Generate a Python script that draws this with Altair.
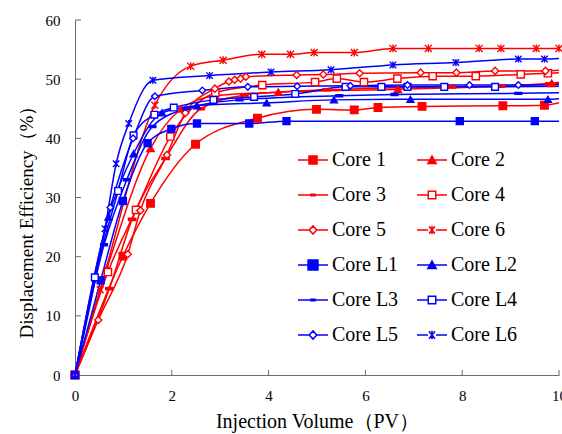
import altair as alt
import pandas as pd

series = ["Core 1", "Core 2", "Core 3", "Core 4", "Core 5", "Core 6",
          "Core L1", "Core L2", "Core L3", "Core L4", "Core L5", "Core L6"]

core1_x = [0, 0.99, 1.56, 2.49, 3.77, 4.99, 5.77, 6.26, 7.17, 8.84, 9.7]
core1_y = [0, 20.1, 29.0, 39.0, 43.4, 44.9, 44.8, 45.2, 45.4, 45.5, 45.6]
core2_x = [0, 0.66, 1.56, 2.2, 2.9, 4.2, 6.67, 9.85]
core2_y = [0, 18.0, 38.3, 45.0, 47.2, 47.8, 48.3, 49.3]
core3_x = [0, 0.71, 1.18, 1.87, 2.6, 3.5, 5.2, 7.78, 8.8, 9.8]
core3_y = [0, 14.6, 26.3, 36.6, 45.0, 47.3, 48.2, 48.7, 48.8, 49.2]
core4_x = [0, 0.68, 1.26, 1.97, 2.9, 3.87, 4.96, 5.41, 5.97, 6.66, 7.39, 8.28, 9.21, 9.77]
core4_y = [0, 17.4, 27.9, 40.3, 47.7, 49.0, 49.5, 50.1, 49.5, 50.1, 50.5, 50.5, 50.8, 51.0]
core5_x = [0, 0.48, 1.09, 1.35, 1.9, 2.28, 2.89, 3.18, 3.3, 3.42, 3.53, 4.58, 5.13, 5.88, 7.14, 7.88, 8.68, 9.72]
core5_y = [0, 9.3, 20.4, 27.8, 37.2, 44.3, 48.4, 49.6, 49.9, 50.1, 50.4, 50.7, 50.8, 51.0, 51.1, 51.1, 51.4, 51.4]
core6_x = [0, 0.52, 1.65, 2.39, 3.06, 3.86, 4.45, 4.94, 5.77, 6.57, 7.3, 8.35, 8.8, 9.53, 10.0]
core6_y = [0, 14.4, 45.6, 52.2, 53.2, 54.2, 54.2, 54.5, 54.5, 55.2, 55.2, 55.2, 55.2, 55.2, 55.2]
coreL1_x = [0, 0.53, 0.99, 1.5, 1.99, 2.52, 3.6, 4.37, 7.95, 9.5]
coreL1_y = [0, 16.0, 29.4, 39.2, 41.6, 42.5, 42.5, 42.9, 42.9, 42.9]
coreL2_x = [0, 0.69, 1.21, 1.8, 2.52, 3.96, 5.35, 6.93, 9.77]
coreL2_y = [0, 26.7, 37.4, 44.3, 45.5, 46.0, 46.5, 46.6, 46.6]
coreL3_x = [0, 0.6, 1.07, 1.6, 2.3, 3.4, 5.46, 6.6, 9.16]
coreL3_y = [0, 22.0, 33.0, 42.0, 45.0, 46.5, 47.2, 47.4, 47.6]
coreL4_x = [0, 0.41, 0.89, 1.21, 1.64, 2.04, 2.86, 3.7, 4.55, 5.59, 6.33, 6.87, 7.63, 8.68]
coreL4_y = [0, 16.5, 31.1, 40.5, 44.0, 45.2, 46.5, 47.0, 47.5, 48.7, 48.7, 48.7, 48.7, 48.7]
coreL5_x = [0, 0.73, 1.2, 1.65, 2.63, 3.57, 4.59, 5.69, 6.87, 8.15, 9.16]
coreL5_y = [0, 28.3, 40.0, 47.1, 48.1, 48.7, 48.8, 48.9, 49.0, 49.0, 49.0]
coreL6_x = [0, 0.62, 0.85, 1.11, 1.61, 2.78, 4.05, 5.29, 6.57, 7.87, 9.16, 9.7]
coreL6_y = [0, 24.7, 35.7, 42.5, 49.8, 50.6, 51.2, 51.6, 52.4, 52.8, 53.4, 53.4]

# where each curve's line runs out at the right edge of the plot
line_end_y = [46.0, 49.5, 49.3, 51.1, 51.5, 55.2, 42.9, 46.7, 47.7, 48.8, 49.1, 53.5]

x_lists = [core1_x, core2_x, core3_x, core4_x, core5_x, core6_x,
           coreL1_x, coreL2_x, coreL3_x, coreL4_x, coreL5_x, coreL6_x]
y_lists = [core1_y, core2_y, core3_y, core4_y, core5_y, core6_y,
           coreL1_y, coreL2_y, coreL3_y, coreL4_y, coreL5_y, coreL6_y]

x_ticks = [2, 4, 6, 8, 10]
y_ticks = [10, 20, 30, 40, 50, 60]

RED = "#FF0000"
BLUE = "#0000FF"
colors = [RED] * 6 + [BLUE] * 6
fills = [RED, RED, RED, "white", "white", "white",
         BLUE, BLUE, BLUE, "white", "white", "white"]

STAR = "M-1,-1L1,1M-1,1L1,-1M0,-1.1V1.1"
DASH = "M-1,-0.3H1V0.3H-1Z"
plot_shapes = ["square", "triangle-up", DASH, "square", "diamond", STAR,
               "square", "triangle-up", DASH, "square", "diamond", STAR]
plot_sizes = [56, 42, 36, 42, 42, 50, 110, 45, 36, 55, 45, 110]

GAP = "M-1,0H-0.27M0.27,0H1"
leg_shapes = [
    "M-1,0H1M-0.27,-0.27H0.27V0.27H-0.27Z",
    "M-1,0H1M-0.28,0.24L0,-0.26L0.28,0.24Z",
    "M-1,0H1M-0.13,-0.05H0.13V0.05H-0.13Z",
    GAP + "M-0.25,-0.25H0.25V0.25H-0.25Z",
    GAP + "M-0.25,0L0,-0.27L0.25,0L0,0.27Z",
    GAP + "M-0.2,-0.25L0.2,0.25M-0.2,0.25L0.2,-0.25M0,-0.28V0.28",
    "M-1,0H1M-0.33,-0.33H0.33V0.33H-0.33Z",
    "M-1,0H1M-0.28,0.24L0,-0.26L0.28,0.24Z",
    "M-1,0H1M-0.13,-0.05H0.13V0.05H-0.13Z",
    GAP + "M-0.25,-0.25H0.25V0.25H-0.25Z",
    GAP + "M-0.25,0L0,-0.27L0.25,0L0,0.27Z",
    GAP + "M-0.2,-0.25L0.2,0.25M-0.2,0.25L0.2,-0.25M0,-0.28V0.28",
]

rows = []
line_rows = []
for i, name in enumerate(series):
    for k, (xv, yv) in enumerate(zip(x_lists[i], y_lists[i])):
        rows.append({"series": name, "x": xv, "y": yv, "order": k})
        line_rows.append({"series": name, "x": xv, "y": yv, "order": k})
    if x_lists[i][-1] < 10:
        line_rows.append({"series": name, "x": 10.0, "y": line_end_y[i],
                          "order": len(x_lists[i])})
df = pd.DataFrame(rows)
df_line = pd.DataFrame(line_rows)

FONT = "Liberation Serif"
AX = "#6b6b6b"

x_axis = alt.Axis(values=[0, 2, 4, 6, 8, 10], tickSize=0, grid=False,
                  labelFlush=False, labelOverlap=False,
                  domainColor=AX, labelFont=FONT, labelFontSize=15,
                  labelColor="black", labelPadding=13,
                  title="Injection Volume（PV）", titleFont=FONT,
                  titleFontSize=20, titleFontWeight="normal",
                  titleColor="black", titlePadding=8)
y_axis = alt.Axis(values=[0, 10, 20, 30, 40, 50, 60], tickSize=0, grid=False,
                  labelFlush=False, labelOverlap=False,
                  domainColor=AX, labelFont=FONT, labelFontSize=15,
                  labelColor="black", labelPadding=15,
                  title="Displacement Efficiency（%）", titleFont=FONT,
                  titleFontSize=19, titleFontWeight="normal",
                  titleColor="black", titlePadding=9, titleY=197)

xs = alt.Scale(domain=[0, 10], nice=False)
ys = alt.Scale(domain=[0, 60], nice=False)


def X(field):
    return alt.X(field, type="quantitative", scale=xs, axis=x_axis)


def Y(field):
    return alt.Y(field, type="quantitative", scale=ys, axis=y_axis)


stroke_enc = alt.Stroke("series:N", scale=alt.Scale(domain=series, range=colors), legend=None)

lines = alt.Chart(df_line).mark_line(interpolate="monotone", strokeWidth=1.5).encode(
    x=X("x"), y=Y("y"), stroke=stroke_enc,
    detail="series:N", order="order:Q")

points = alt.Chart(df).mark_point(opacity=1, strokeWidth=1.4).encode(
    x=X("x"), y=Y("y"), stroke=stroke_enc,
    fill=alt.Fill("series:N", scale=alt.Scale(domain=series, range=fills), legend=None),
    shape=alt.Shape("series:N", scale=alt.Scale(domain=series, range=plot_shapes), legend=None),
    size=alt.Size("series:N", scale=alt.Scale(domain=series, range=plot_sizes), legend=None),
)

leg = alt.Legend(orient="none", legendX=222, legendY=124, columns=2,
                 direction="horizontal", title=None,
                 symbolSize=900, symbolStrokeWidth=1.5, labelFont=FONT,
                 labelFontSize=20, labelColor="black", labelOffset=3,
                 rowPadding=9, columnPadding=15, padding=0, symbolLimit=0)

legend_layer = alt.Chart(df).transform_filter("datum.x < -1").mark_point(
    opacity=1, strokeWidth=1.5).encode(
    x=X("x"), y=Y("y"),
    stroke=alt.Stroke("series:N", scale=alt.Scale(domain=series, range=colors), legend=leg),
    fill=alt.Fill("series:N", scale=alt.Scale(domain=series, range=fills), legend=leg),
    shape=alt.Shape("series:N", scale=alt.Scale(domain=series, range=leg_shapes), legend=leg),
)

ytick_df = pd.DataFrame({"v": y_ticks})
xtick_df = pd.DataFrame({"v": x_ticks})
ytick_layer = alt.Chart(ytick_df).mark_rule(color=AX, strokeWidth=1).encode(
    y=Y("v"), x=alt.value(0), x2=alt.value(6))
xtick_layer = alt.Chart(xtick_df).mark_rule(color=AX, strokeWidth=1).encode(
    x=X("v"), y=alt.value(355), y2=alt.value(350))

chart = alt.layer(ytick_layer, xtick_layer, lines, points, legend_layer).resolve_scale(
    stroke="independent", fill="independent", shape="independent", size="independent"
).properties(
    width=484, height=355,
    padding={"left": 75, "top": 20, "right": 3, "bottom": 59},
    autosize=alt.AutoSizeParams(type="none"),
    background="white",
).configure_view(stroke=None, clip=False)

chart.save("out.html", embed_options={"renderer": "svg", "actions": False})
